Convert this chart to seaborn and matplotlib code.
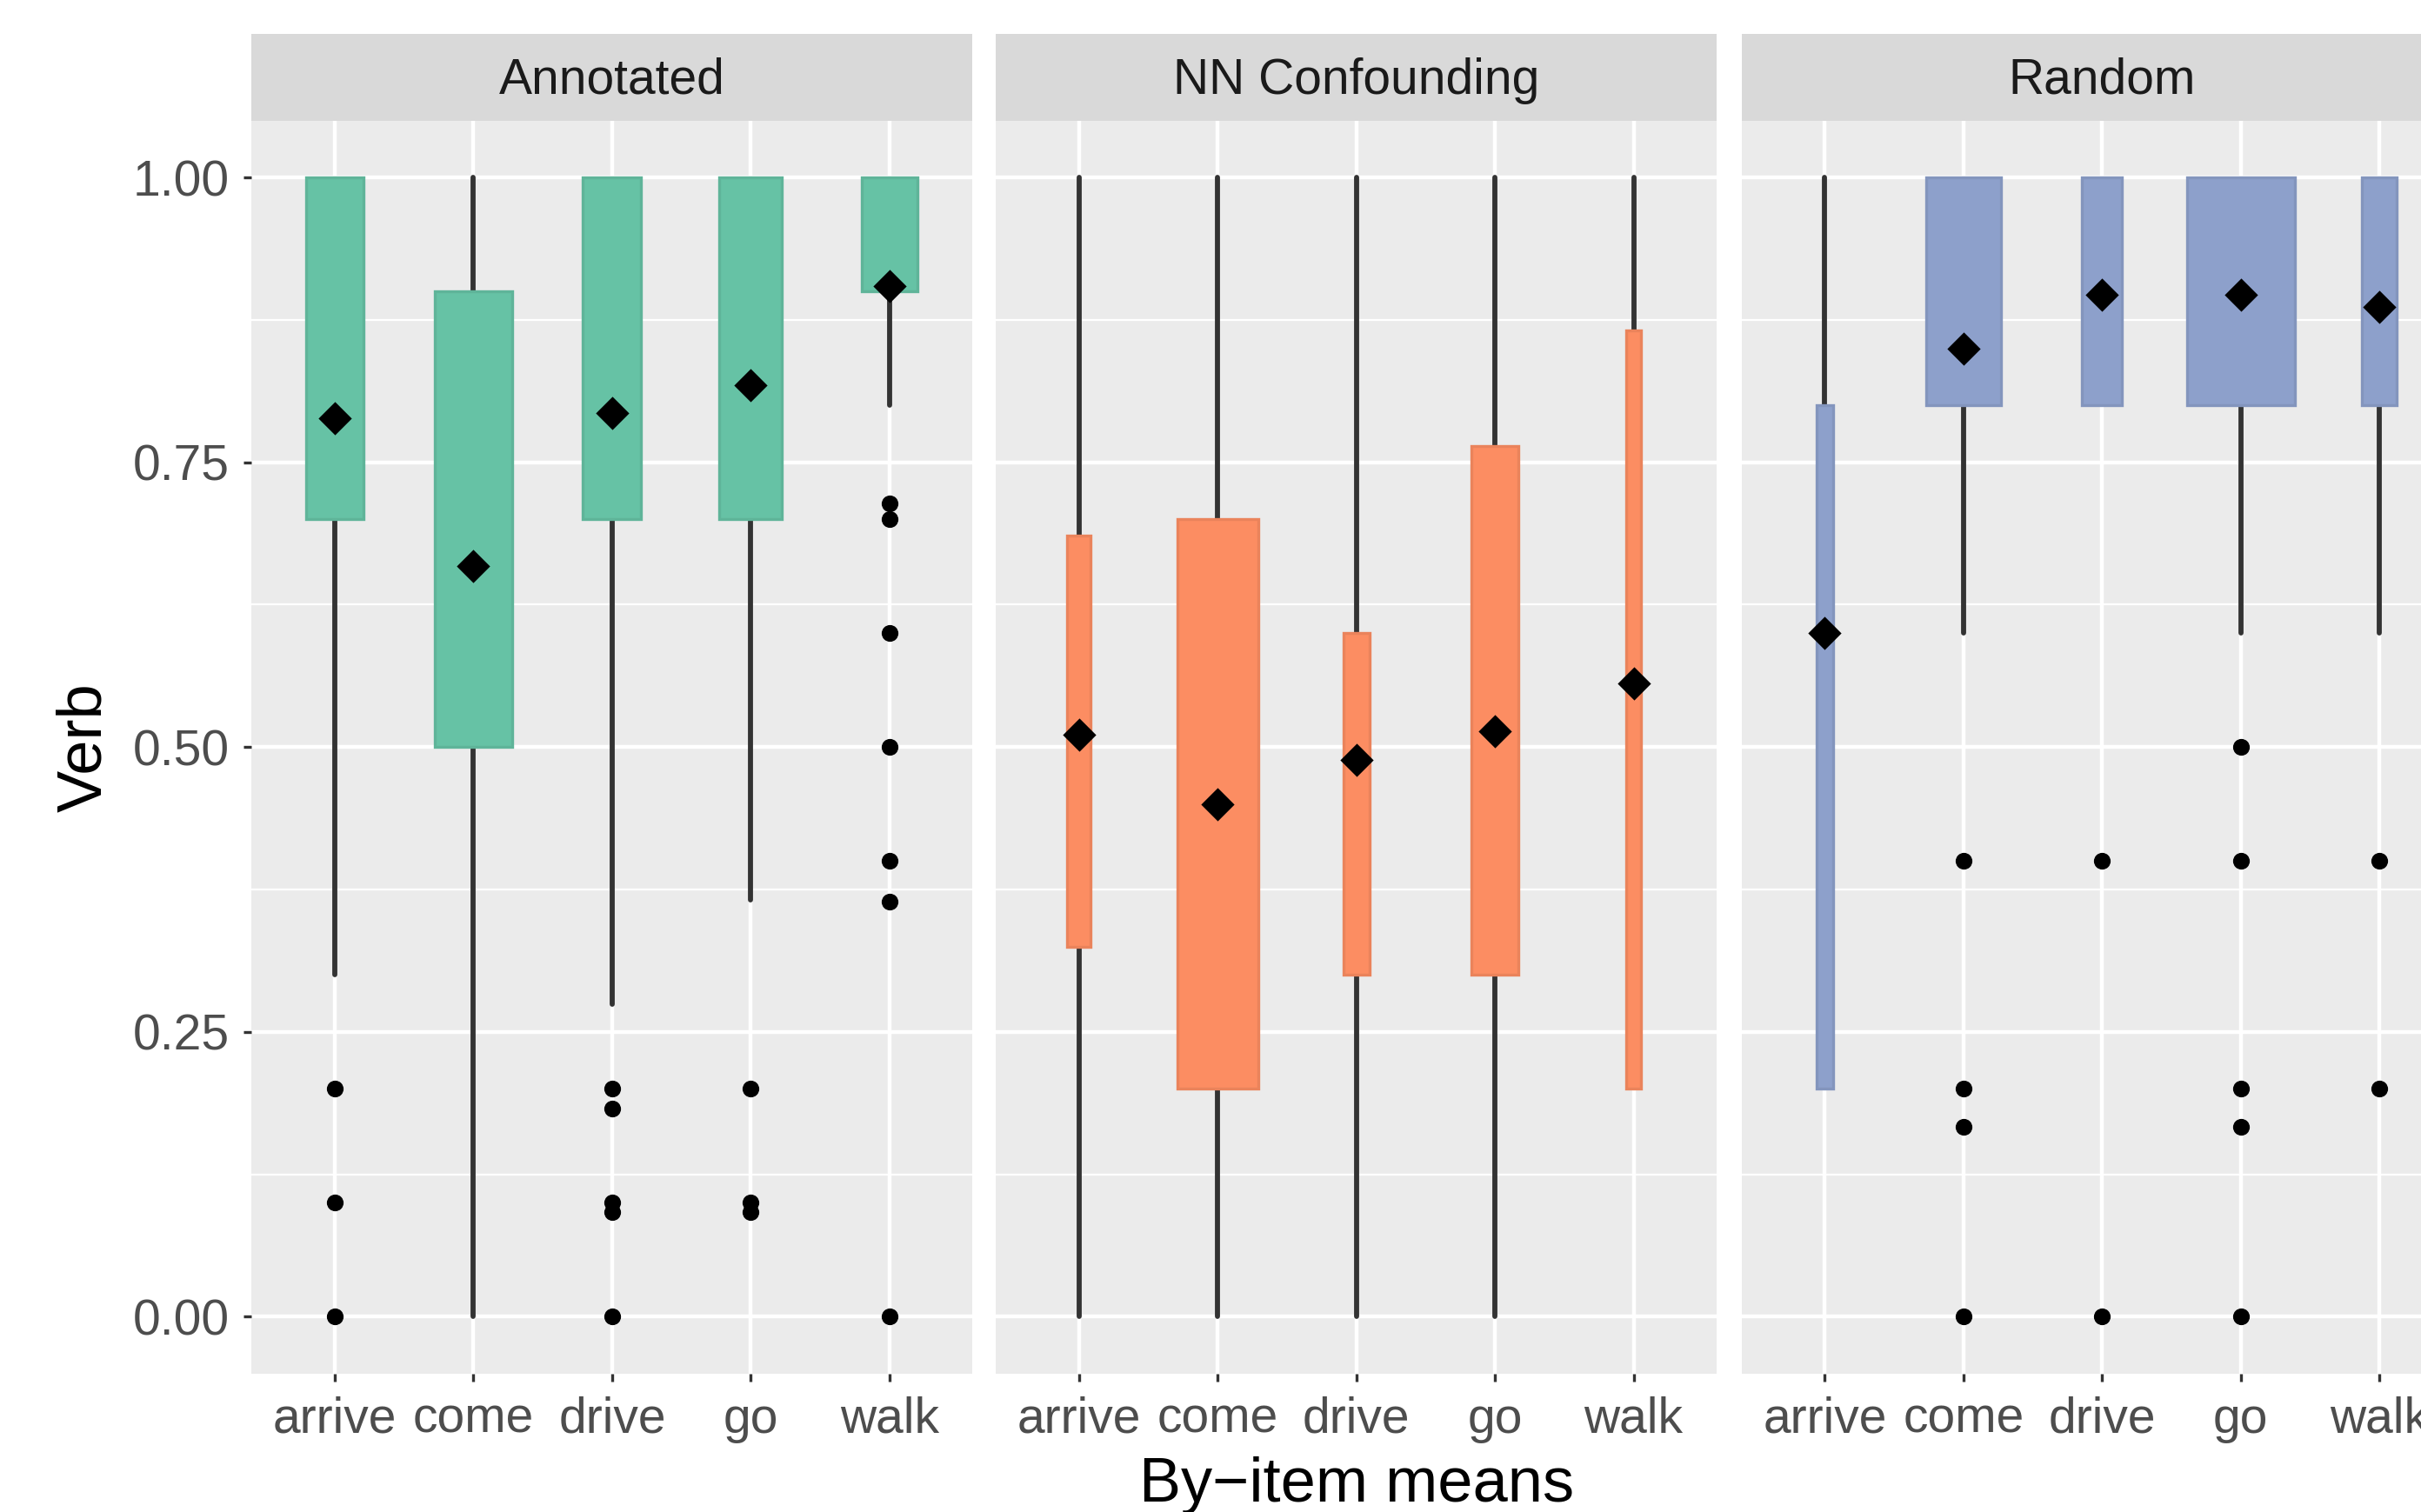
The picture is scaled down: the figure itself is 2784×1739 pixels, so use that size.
import numpy as np
import pandas as pd
import matplotlib
matplotlib.use("Agg")
import matplotlib.pyplot as plt
import matplotlib.colors as mcolors
import seaborn as sns

# ---------------- data ----------------
panels = ["Annotated", "NN Confounding", "Random"]
verbs = ["arrive", "come", "drive", "go", "walk"]
fills = ["#66C2A5", "#FC8D62", "#8DA0CB"]

ann_q1 = [0.70, 0.50, 0.70, 0.70, 0.90]
ann_med = [0.90, 0.70, 0.90, 0.90, 1.00]
ann_q3 = [1.00, 0.90, 1.00, 1.00, 1.00]
ann_lo = [0.30, 0.00, 0.274, 0.366, 0.80]
ann_hi = [1.00, 1.00, 1.00, 1.00, 1.00]
ann_mean = [0.789, 0.659, 0.793, 0.818, 0.905]
ann_width = [0.41, 0.56, 0.42, 0.45, 0.40]
ann_out = [[0.20, 0.10, 0.00], [], [0.20, 0.183, 0.10, 0.092, 0.00],
           [0.20, 0.10, 0.092], [0.714, 0.70, 0.60, 0.50, 0.40, 0.364, 0.00]]

nn_q1 = [0.325, 0.20, 0.30, 0.30, 0.20]
nn_med = [0.50, 0.40, 0.50, 0.50, 0.60]
nn_q3 = [0.686, 0.70, 0.60, 0.764, 0.866]
nn_lo = [0.00, 0.00, 0.00, 0.00, 0.20]
nn_hi = [1.00, 1.00, 1.00, 1.00, 1.00]
nn_mean = [0.511, 0.450, 0.489, 0.514, 0.556]
nn_width = [0.17, 0.58, 0.19, 0.34, 0.11]
nn_out = [[], [], [], [], []]

rnd_q1 = [0.20, 0.80, 0.80, 0.80, 0.80]
rnd_med = [0.60, 0.90, 0.90, 0.90, 0.90]
rnd_q3 = [0.80, 1.00, 1.00, 1.00, 1.00]
rnd_lo = [0.20, 0.60, 0.80, 0.60, 0.60]
rnd_hi = [1.00, 1.00, 1.00, 1.00, 1.00]
rnd_mean = [0.600, 0.850, 0.897, 0.897, 0.886]
rnd_width = [0.12, 0.54, 0.29, 0.78, 0.25]
rnd_out = [[], [0.40, 0.20, 0.167, 0.00], [0.40, 0.00],
           [0.50, 0.40, 0.20, 0.167, 0.00], [0.40, 0.20]]

panel_data = [
    (ann_q1, ann_med, ann_q3, ann_lo, ann_hi, ann_mean, ann_width, ann_out),
    (nn_q1, nn_med, nn_q3, nn_lo, nn_hi, nn_mean, nn_width, nn_out),
    (rnd_q1, rnd_med, rnd_q3, rnd_lo, rnd_hi, rnd_mean, rnd_width, rnd_out),
]

yticks = [0.0, 0.25, 0.50, 0.75, 1.00]
ytick_labels = ["0.00", "0.25", "0.50", "0.75", "1.00"]

# ---------------- style ----------------
sns.set_theme(style="darkgrid")
plt.rcParams["font.family"] = ["Liberation Sans", "DejaVu Sans"]

W, H = 2784, 1739
DPI = 200
fig = plt.figure(figsize=(W / DPI, H / DPI), dpi=DPI, facecolor="white")

panel_left_px = [289.4, 1145.2, 2002.8]
panel_w_px = 829.0
panel_top_px = 138.5
panel_bot_px = 1580.0
strip_top_px = 39.0

def darker(c, f=0.93):
    r, g, b = mcolors.to_rgb(c)
    return (r * f, g * f, b * f)

for i, (pname, fill, pdata) in enumerate(zip(panels, fills, panel_data)):
    q1, med, q3, lo, hi, mean, width, out = pdata
    left = panel_left_px[i] / W
    bottom = 1 - panel_bot_px / H
    w = panel_w_px / W
    h = (panel_bot_px - panel_top_px) / H
    ax = fig.add_axes([left, bottom, w, h])
    ax.set_facecolor("#EBEBEB")
    for s in ax.spines.values():
        s.set_visible(False)

    pos = list(range(len(verbs)))
    stats = []
    for k in range(len(verbs)):
        stats.append(dict(med=med[k], q1=q1[k], q3=q3[k], whislo=lo[k],
                          whishi=hi[k], fliers=[], mean=mean[k]))
    bp = ax.bxp(stats, positions=pos, widths=width, patch_artist=True,
                showfliers=False, showcaps=False, showmeans=False,
                manage_ticks=False,
                boxprops=dict(facecolor=fill, edgecolor=darker(fill), linewidth=1.2),
                whiskerprops=dict(color="#333333", linewidth=2.1),
                medianprops=dict(color=fill, linewidth=0))
    for patch in bp["boxes"]:
        patch.set_zorder(3)
    for wl in bp["whiskers"]:
        wl.set_zorder(2)

    out_x, out_y = [], []
    for k, vals in enumerate(out):
        for v in vals:
            out_x.append(k)
            out_y.append(v)
    if out_x:
        sns.scatterplot(x=out_x, y=out_y, color="black", s=48, linewidth=0,
                        marker="o", ax=ax, zorder=4, legend=False)
    sns.scatterplot(x=pos, y=mean, color="black", s=95, linewidth=0,
                    marker="D", ax=ax, zorder=5, legend=False)

    ax.set_xlim(-0.6, len(verbs) - 0.4)
    ax.set_ylim(-0.05, 1.05)
    ax.set_xticks(pos)
    ax.set_xticklabels(verbs)
    ax.set_yticks(yticks)
    ax.set_yticks([0.125, 0.375, 0.625, 0.875], minor=True)
    ax.grid(which="major", color="white", linewidth=1.6)
    ax.grid(which="minor", axis="y", color="white", linewidth=0.8)
    ax.set_axisbelow(True)
    ax.tick_params(axis="both", which="major", length=3.3, width=1.2,
                   color="#333333", labelcolor="#4D4D4D", labelsize=20.5,
                   pad=6.0, bottom=True, left=(i == 0))
    ax.tick_params(axis="y", which="minor", length=0)
    if i == 0:
        ax.set_yticklabels(ytick_labels)
    else:
        ax.set_yticklabels([])
    ax.set_xlabel("")
    ax.set_ylabel("")

    # strip
    sax = fig.add_axes([left, 1 - panel_top_px / H, w, (panel_top_px - strip_top_px) / H])
    sax.set_facecolor("#D9D9D9")
    for s in sax.spines.values():
        s.set_visible(False)
    sax.set_xticks([])
    sax.set_yticks([])
    sax.grid(False)
    sax.text(0.5, 0.46, pname, transform=sax.transAxes, ha="center", va="center",
             fontsize=20.5, color="#1A1A1A")

fig.text(98 / W, 1 - ((panel_top_px + panel_bot_px) / 2) / H, "Verb",
         rotation=90, ha="center", va="center", fontsize=26, color="black")
fig.text((panel_left_px[1] + panel_w_px / 2) / W, 1 - 1727 / H, "By\u2212item means",
         ha="center", va="baseline", fontsize=26, color="black")

fig.savefig("out.png", dpi=DPI, facecolor="white")
